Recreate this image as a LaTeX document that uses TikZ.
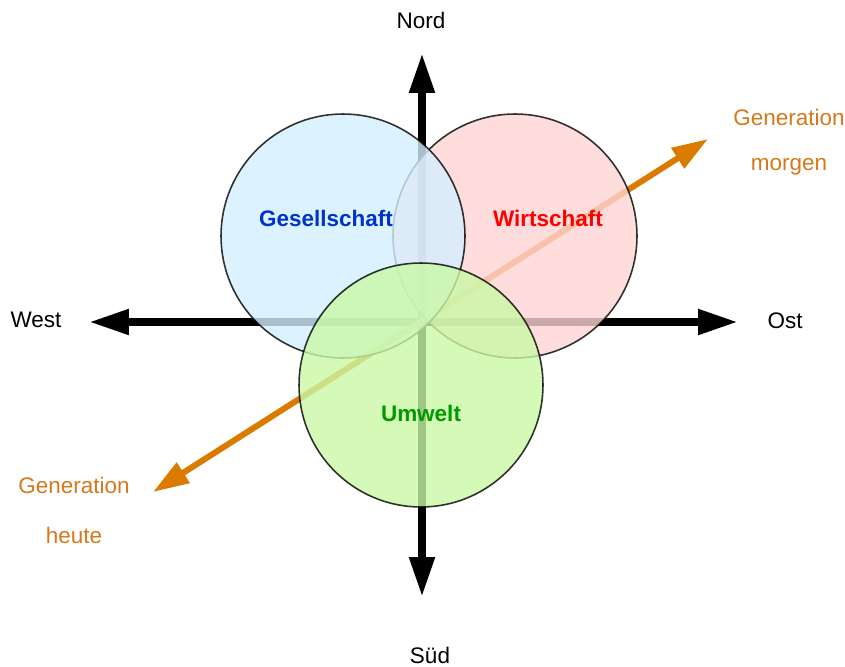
\documentclass[tikz,border=0pt]{standalone}
\usepackage{fontspec}
\setmainfont{Liberation Sans}
\usetikzlibrary{arrows.meta}
\definecolor{genorange}{RGB}{218,123,0}
\definecolor{gentext}{RGB}{214,120,28}
\definecolor{gesfill}{RGB}{212,239,255}
\definecolor{wirfill}{RGB}{255,212,212}
\definecolor{umwfill}{RGB}{202,249,166}
\definecolor{gestext}{RGB}{0,51,204}
\definecolor{umwtext}{RGB}{0,153,0}

\begin{document}
\begin{tikzpicture}[x=0.02cm,y=-0.02cm,
	every node/.style={font=\fontsize{12.8}{15}\selectfont},
	axis/.style={line width=0.16cm,
		{Triangle[length=0.8cm,width=0.48cm]}-{Triangle[length=0.8cm,width=0.48cm]}},
	genaxis/.style={genorange, line width=0.12cm,
		{Triangle[length=0.72cm,width=0.46cm]}-{Triangle[length=0.72cm,width=0.46cm]}},
	sphere/.style={circle, draw=black, line width=0.9pt, opacity=0.8, minimum size=4.88cm, inner sep=0pt},
	sphere label/.style={font=\fontsize{12.8}{15}\selectfont\bfseries},
	gen label/.style={text=gentext}]
	\useasboundingbox (0,0) rectangle (845,666);
	% axis ends
	\coordinate (nordend) at (422,53);
	\coordinate (suedend) at (422,597);
	\coordinate (westend) at (89,322);
	\coordinate (ostend) at (738,322);
	\coordinate (heuteend) at (153,492);
	\coordinate (morgenend) at (708,139);
	\draw[axis] (suedend) -- (nordend);
	\draw[axis] (westend) -- (ostend);
	\draw[genaxis] (heuteend) -- (morgenend);
	% the three circles
	\node[sphere, fill=wirfill] (wir) at (515,236) {};
	\node[sphere, fill=gesfill] (ges) at (343,236) {};
	\node[sphere, fill=umwfill] (umw) at (421,385) {};
	\node[sphere label, text=gestext] (geslabel) at (326,218) {Gesellschaft};
	\node[sphere label, text=red] (wirlabel) at (548,218) {Wirtschaft};
	\node[sphere label, text=umwtext] (umwlabel) at (421,413) {Umwelt};
	% directions
	\node (nord) at (421,20) {Nord};
	\node (sued) at (430,655) {Süd};
	\node (west) at (36,320) {West};
	\node (ost) at (785,321) {Ost};
	\node[gen label] (morgen1) at (789,117) {Generation};
	\node[gen label] (morgen2) at (789,167) {morgen};
	\node[gen label] (heute1) at (74,485) {Generation};
	\node[gen label] (heute2) at (74,535) {heute};
\end{tikzpicture}
\end{document}
